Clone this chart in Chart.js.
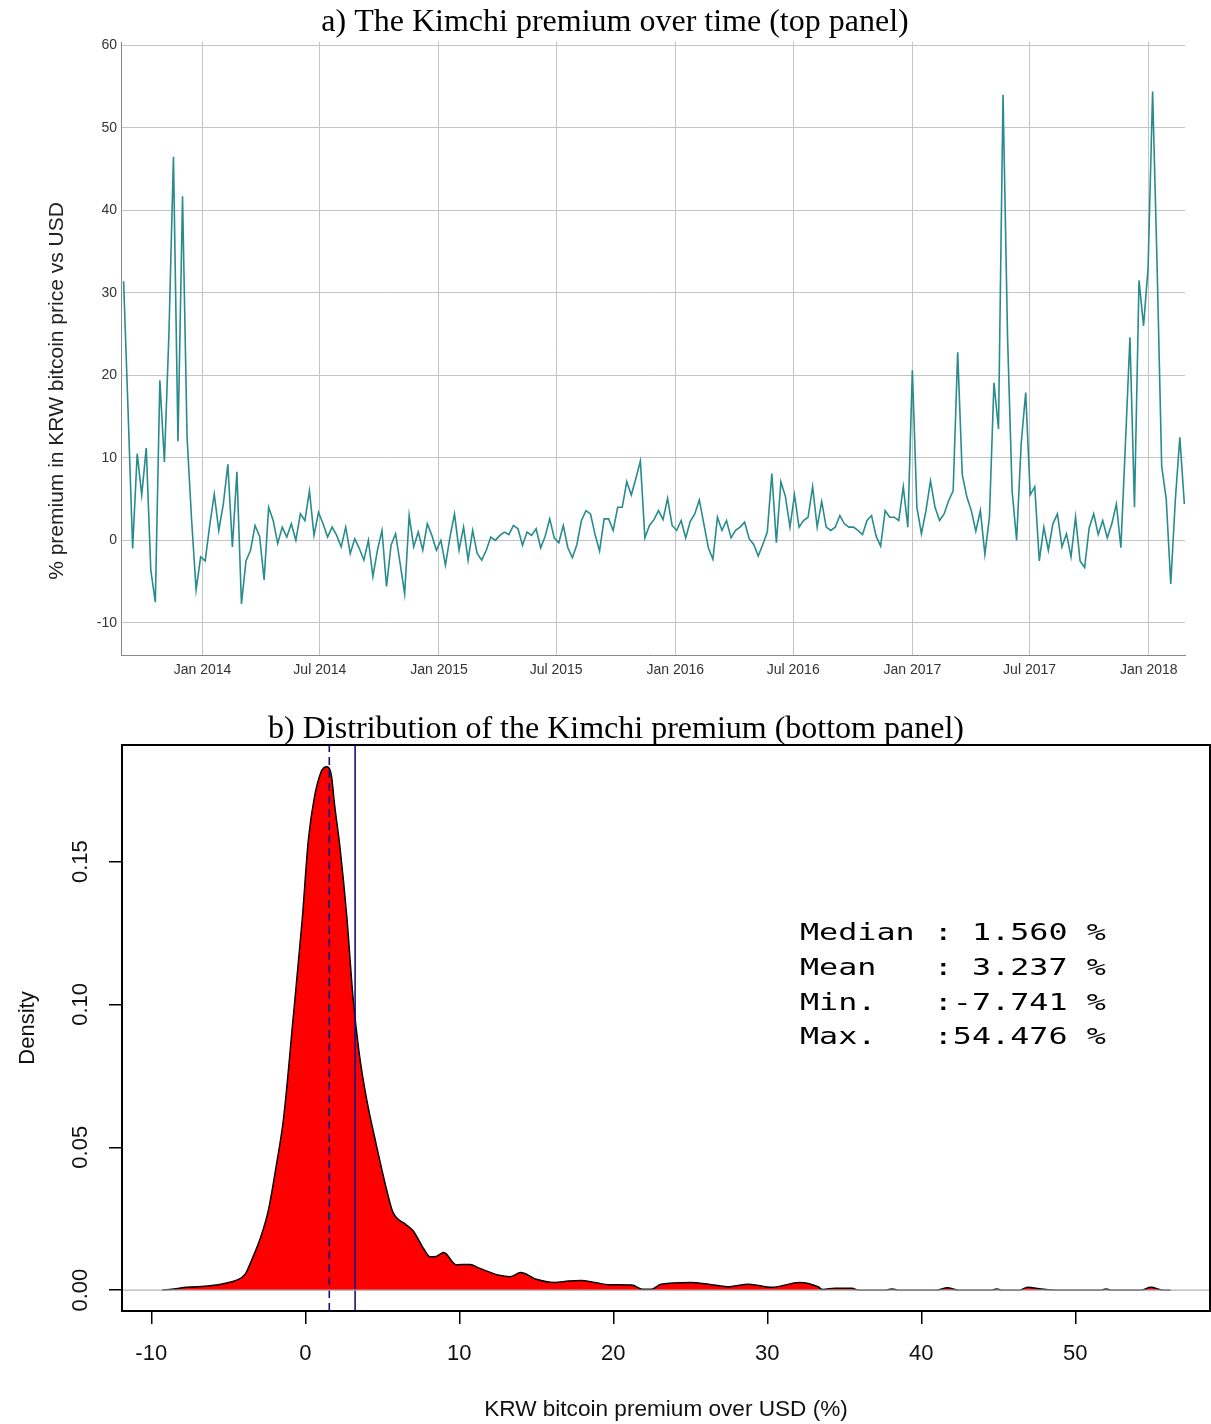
<!DOCTYPE html>
<html>
<head>
<meta charset="utf-8">
<title>Kimchi premium</title>
<script src="https://cdn.jsdelivr.net/npm/chart.js@4.4.1/dist/chart.umd.min.js"></script>
<style>
  body { margin: 0; background: #fff; }
  #wrap { position: relative; width: 1211px; height: 1424px; }
  canvas { position: absolute; left: 0; }
  #premium { top: 0; }
  #density { top: 700px; }
</style>
</head>
<body>
<div id="wrap">
  <canvas id="premium" width="1211" height="700"></canvas>
  <canvas id="density" width="1211" height="724"></canvas>
</div>
<script>
// ---- top panel: weekly readings of the premium (%), first reading on seriesStart
const seriesStart = '2013-09-01';
const stepDays = 7;
const premium = [
  31.4, 15.5, -1.0, 10.5, 5.5, 11.2, -3.6, -7.5, 19.4, 9.5,
  25.0, 46.5, 12.0, 41.7, 12.5, 2.5, -6.0, -2.0, -2.5, 1.8,
  5.6, 1.2, 4.4, 9.2, -0.8, 8.3, -7.7, -2.5, -1.2, 1.8,
  0.5, -4.8, 4.0, 2.4, -0.4, 1.6, 0.4, 2.0, 0.0, 3.2,
  2.4, 6.0, 0.6, 3.4, 2.0, 0.4, 1.6, 0.6, -0.8, 1.6,
  -1.6, 0.2, -1.0, -2.4, 0.0, -4.4, -1.2, 1.2, -5.6, -0.6,
  0.8, -2.8, -6.5, 3.0, -0.8, 1.0, -1.2, 2.0, 0.6, -1.2,
  0.0, -3.0, 0.4, 3.2, -1.2, 1.6, -2.4, 1.2, -1.6, -2.4,
  -1.2, 0.4, 0.0, 0.6, 1.0, 0.7, 1.8, 1.4, -0.6, 1.0,
  0.6, 1.4, -0.9, 0.5, 2.6, 0.3, -0.3, 1.8, -0.9, -2.1,
  -0.5, 2.4, 3.6, 3.2, 0.7, -1.3, 2.6, 2.6, 1.2, 4.0,
  4.0, 7.1, 5.5, 7.5, 9.6, 0.3, 1.8, 2.5, 3.6, 2.5,
  5.1, 1.8, 1.2, 2.4, 0.3, 2.3, 3.2, 4.9, 2.0, -0.9,
  -2.3, 2.8, 1.2, 2.4, 0.3, 1.2, 1.6, 2.2, 0.2, -0.5,
  -1.9, -0.5, 1.0, 8.1, -0.3, 7.1, 5.3, 1.6, 5.5, 1.6,
  2.4, 2.8, 6.5, 1.6, 4.7, 1.6, 1.2, 1.6, 3.0, 2.0,
  1.6, 1.6, 1.2, 0.7, 2.4, 3.0, 0.5, -0.7, 3.6, 2.8,
  2.8, 2.4, 6.5, 1.6, 20.6, 4.0, 0.8, 3.6, 7.2, 4.0,
  2.4, 3.2, 4.8, 6.0, 22.8, 8.0, 5.3, 3.6, 1.1, 3.6,
  -1.7, 2.8, 19.1, 13.5, 54.0, 24.6, 6.0, 0.0, 11.7, 17.9,
  5.5, 6.5, -2.5, 1.6, -1.2, 2.0, 3.2, -0.8, 0.8, -2.0,
  2.8, -2.5, -3.3, 1.5, 3.2, 0.7, 2.4, 0.3, 2.0, 4.4,
  -0.9, 11.7, 24.6, 4.0, 31.5, 26.0, 33.0, 54.4, 33.0, 9.0,
  5.0, -5.3, 4.8, 12.5, 4.4
];
const timeRange = ['2013-08-28', '2018-02-26'];
const timeTickDates = ['2014-01-01', '2014-07-01', '2015-01-01', '2015-07-01', '2016-01-01',
                       '2016-07-01', '2017-01-01', '2017-07-01', '2018-01-01'];
const timeTickLabels = ['Jan 2014', 'Jul 2014', 'Jan 2015', 'Jul 2015', 'Jan 2016',
                        'Jul 2016', 'Jan 2017', 'Jul 2017', 'Jan 2018'];
const premiumTicks = [-10, 0, 10, 20, 30, 40, 50, 60];

// ---- bottom panel: kernel density of the premium
const densityX = [
  -9.3, -8.4, -7.7, -6.2, -5.1, -4.5, -3.9, -3.5, -2.9, -2.4, -1.9, -1.4, -0.8, -0.2,
  0.2, 0.6, 1.0, 1.2, 1.4, 1.7, 1.9, 2.25, 2.7, 3.1, 3.5, 4.0, 4.6, 5.3, 5.7, 6.5, 7.0,
  7.7, 8.1, 8.5, 9.0, 9.8, 10.7, 11.3, 12.6, 13.3, 14.0, 15.0, 16.2, 17.1, 17.9, 18.8,
  19.7, 21.2, 21.9, 22.5, 23.1, 25.0, 26.2, 27.4, 28.8, 30.3, 32.1, 33.3, 33.6, 34.4,
  35.5, 35.9, 37.7, 38.1, 38.5, 41.0, 41.7, 42.4, 44.6, 44.9, 45.2, 46.4, 46.9, 47.8,
  48.8, 51.7, 52.0, 52.3, 54.3, 54.9, 55.7, 56.2
];
const densityY = [
  0, 0.0005, 0.0010, 0.0015, 0.0025, 0.0034, 0.0056, 0.0103, 0.0184, 0.0278, 0.0430, 0.0605, 0.0944, 0.1295,
  0.1575, 0.1727, 0.1810, 0.1828, 0.1832, 0.1800, 0.1700, 0.1552, 0.1306, 0.1026, 0.0830, 0.0664, 0.0512, 0.0348, 0.0272, 0.0231, 0.0208,
  0.0144, 0.0117, 0.0118, 0.0132, 0.0089, 0.0090, 0.0077, 0.0052, 0.0047, 0.0062, 0.0038, 0.0027, 0.0032, 0.0034, 0.0027,
  0.0019, 0.0018, 0.0003, 0.0003, 0.0021, 0.0027, 0.0021, 0.0012, 0.0021, 0.0010, 0.0027, 0.0012, 0.0002, 0.0007,
  0.0007, 0, 0, 0.0004, 0, 0, 0.0008, 0, 0, 0.0004, 0, 0, 0.0010, 0.0004,
  0, 0, 0.0004, 0, 0, 0.0010, 0, 0
];
const densityXRange = [-11.9, 58.75];
const densityYRange = [-0.0073, 0.1908];
const densityXTicks = [-10, 0, 10, 20, 30, 40, 50];
const densityYTicks = [0, 0.05, 0.10, 0.15];

const statNames = ['Median', 'Mean', 'Min.', 'Max.'];
const statValues = [1.560, 3.237, -7.741, 54.476];

const SANS  = '"Liberation Sans", Arial, sans-serif';
const SERIF = '"Liberation Serif", "Times New Roman", serif';
const MONO  = '"DejaVu Sans Mono", monospace';
const TEAL  = '#288b8d';
const NAVY  = '#14147a';
const DAY   = 86400000;

// panel heading, centred on the page rather than on the plot box
function panelTitle(text, x, y) {
  return {
    id: 'panelTitle',
    afterDraw(chart) {
      const ctx = chart.ctx;
      ctx.save();
      ctx.font = '32px ' + SERIF;
      ctx.fillStyle = '#000';
      ctx.textAlign = 'center';
      ctx.textBaseline = 'middle';
      ctx.fillText(text, x, y);
      ctx.restore();
    }
  };
}

/* -------- top panel -------- */

const t0 = Date.parse(seriesStart);
const premiumPoints = premium.map((v, i) => ({ x: t0 + i * stepDays * DAY, y: v }));

const sideTitle = {
  id: 'sideTitle',
  afterDraw(chart) {
    const ctx = chart.ctx;
    ctx.save();
    ctx.translate(57, 391);
    ctx.rotate(-Math.PI / 2);
    ctx.font = '21px ' + SANS;
    ctx.fillStyle = '#222';
    ctx.textAlign = 'center';
    ctx.textBaseline = 'middle';
    ctx.fillText('% premium in KRW bitcoin price vs USD', 0, 0);
    ctx.restore();
  }
};

new Chart(document.getElementById('premium'), {
  type: 'scatter',
  data: {
    datasets: [{
      data: premiumPoints,
      showLine: true,
      borderColor: TEAL,
      borderWidth: 1.6,
      pointRadius: 0,
      tension: 0,
    }],
  },
  options: {
    responsive: false,
    animation: false,
    devicePixelRatio: 1,
    layout: { padding: { left: 0, right: 26, top: 42, bottom: 0 } },
    plugins: {
      legend: { display: false },
      tooltip: { enabled: false },
      title: { display: false },
    },
    scales: {
      x: {
        type: 'linear',
        min: Date.parse(timeRange[0]),
        max: Date.parse(timeRange[1]),
        afterBuildTicks: s => { s.ticks = timeTickDates.map(d => ({ value: Date.parse(d) })); },
        afterFit: s => { s.height = 45; },
        ticks: {
          callback: (v, i) => timeTickLabels[i],
          font: { family: SANS, size: 14 },
          color: '#333',
          padding: 7,
          maxRotation: 0,
          autoSkip: false,
        },
        grid: { color: '#c4c4c4', drawTicks: false },
        border: { color: '#888' },
      },
      y: {
        min: -13.9,
        max: 60.4,
        afterBuildTicks: s => { s.ticks = premiumTicks.map(v => ({ value: v })); },
        afterFit: s => { s.width = 121; },
        ticks: {
          callback: v => String(v),
          font: { family: SANS, size: 14 },
          color: '#333',
          padding: 4,
        },
        grid: { color: '#c4c4c4', drawTicks: false },
        border: { color: '#888' },
      },
    },
  },
  plugins: [sideTitle, panelTitle('a) The Kimchi premium over time (top panel)', 615, 23)],
});

/* -------- bottom panel -------- */

const densityPoints = densityX.map((x, i) => ({ x, y: densityY[i] }));

function statLine(i) {
  return statNames[i].padEnd(7) + ':' + statValues[i].toFixed(3).padStart(6) + ' %';
}

const boxAndNotes = {
  id: 'boxAndNotes',
  afterDatasetsDraw(chart) {
    const { ctx, chartArea } = chart;
    const y0 = chart.scales.y.getPixelForValue(0);
    ctx.save();
    ctx.strokeStyle = '#b4b4b4';
    ctx.lineWidth = 1.2;
    ctx.beginPath();
    ctx.moveTo(chartArea.left, y0);
    ctx.lineTo(chartArea.right, y0);
    ctx.stroke();
    ctx.restore();
  },
  afterDraw(chart) {
    const { ctx, chartArea } = chart;
    ctx.save();
    ctx.strokeStyle = '#000';
    ctx.lineWidth = 2;
    ctx.strokeRect(chartArea.left, chartArea.top, chartArea.right - chartArea.left, chartArea.bottom - chartArea.top);

    ctx.fillStyle = '#000';
    ctx.font = '23px ' + MONO;
    ctx.textBaseline = 'alphabetic';
    statNames.forEach((_, i) => {
      ctx.save();
      ctx.translate(800, 240 + i * 34.8);
      ctx.scale(1.38, 1);
      ctx.fillText(statLine(i), 0, 0);
      ctx.restore();
    });
    ctx.restore();
  }
};

new Chart(document.getElementById('density'), {
  type: 'scatter',
  data: {
    datasets: [
      {
        data: [{ x: statValues[0], y: densityYRange[0] }, { x: statValues[0], y: densityYRange[1] }],
        showLine: true,
        borderColor: NAVY,
        borderWidth: 1.6,
        borderDash: [8, 5],
        pointRadius: 0,
      },
      {
        data: [{ x: statValues[1], y: densityYRange[0] }, { x: statValues[1], y: densityYRange[1] }],
        showLine: true,
        borderColor: NAVY,
        borderWidth: 1.6,
        pointRadius: 0,
      },
      {
        data: densityPoints,
        showLine: true,
        borderColor: '#000',
        borderWidth: 1.5,
        backgroundColor: '#ff0000',
        fill: 'origin',
        pointRadius: 0,
        cubicInterpolationMode: 'monotone',
      },
    ],
  },
  options: {
    responsive: false,
    animation: false,
    devicePixelRatio: 1,
    layout: { padding: { left: 0, right: 1, top: 45, bottom: 0 } },
    plugins: {
      legend: { display: false },
      tooltip: { enabled: false },
      title: { display: false },
    },
    scales: {
      x: {
        type: 'linear',
        min: densityXRange[0],
        max: densityXRange[1],
        afterBuildTicks: s => { s.ticks = densityXTicks.map(v => ({ value: v })); },
        afterFit: s => { s.height = 113; },
        ticks: {
          callback: v => String(v),
          font: { family: SANS, size: 22 },
          color: '#111',
          padding: 17,
          maxRotation: 0,
          autoSkip: false,
        },
        grid: { drawOnChartArea: false, drawTicks: true, tickLength: 13, color: '#000', lineWidth: 1.5 },
        border: { color: '#000', width: 2 },
        title: {
          display: true,
          text: 'KRW bitcoin premium over USD (%)',
          color: '#111',
          font: { family: SANS, size: 22.6 },
          padding: { top: 0, bottom: 1 },
        },
      },
      y: {
        min: densityYRange[0],
        max: densityYRange[1],
        afterBuildTicks: s => { s.ticks = densityYTicks.map(v => ({ value: v })); },
        afterFit: s => { s.width = 122; },
        ticks: {
          callback: v => v.toFixed(2),
          font: { family: SANS, size: 22 },
          color: '#111',
          padding: 7,
          minRotation: 90,
          maxRotation: 90,
          crossAlign: 'center',
        },
        grid: { drawOnChartArea: false, drawTicks: true, tickLength: 13, color: '#000', lineWidth: 1.5 },
        border: { color: '#000', width: 2 },
        title: {
          display: true,
          text: 'Density',
          color: '#111',
          font: { family: SANS, size: 22 },
          padding: { top: 15, bottom: 0 },
        },
      },
    },
  },
  plugins: [boxAndNotes, panelTitle('b) Distribution of the Kimchi premium (bottom panel)', 616, 30)],
});
</script>
</body>
</html>
